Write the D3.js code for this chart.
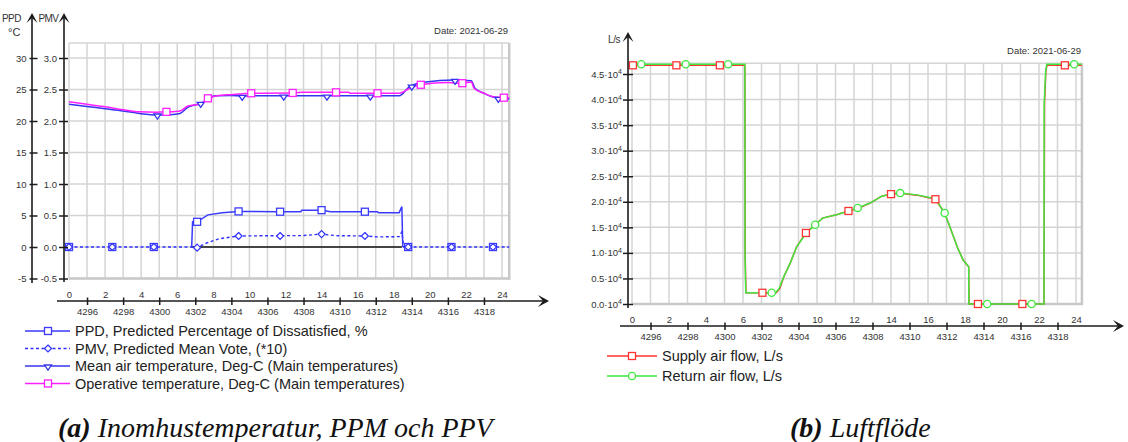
<!DOCTYPE html>
<html><head><meta charset="utf-8">
<script src="https://cdn.jsdelivr.net/npm/d3@7/dist/d3.min.js"></script>
<style>
body{margin:0;background:#fff}
svg{display:block}
text{font-family:"Liberation Sans",Arial,sans-serif}
text.cap{font-family:"Liberation Serif","Times New Roman",serif}
</style></head><body>
<svg id="c" width="1128" height="442"></svg>
<script>
// ---------- shared tick labels ----------
const hourLabels = [0,2,4,6,8,10,12,14,16,18,20,22,24];
const simHourTickHours = [1,3,5,7,9,11,13,15,17,19,21,23];
const simHourLabels = [4296,4298,4300,4302,4304,4306,4308,4310,4312,4314,4316,4318];
const dateLabel = "Date: 2021-06-29";

// ---------- chart (a) ----------
const ppdTicks = [-5,0,5,10,15,20,25,30];
const pmvTicks = [-0.5,0.0,0.5,1.0,1.5,2.0,2.5,3.0];
const legendA = [
  "PPD, Predicted Percentage of Dissatisfied, %",
  "PMV, Predicted Mean Vote, (*10)",
  "Mean air temperature, Deg-C (Main temperatures)",
  "Operative temperature, Deg-C (Main temperatures)"
];
// [hour, value]
const ppdLine = [[6.8,0],[6.85,4.0],[7.1,4.0],[7.7,5.1],[8.5,5.45],[9.4,5.65],[11.5,5.6],[12.85,5.6],[12.9,5.85],[14.0,5.85],[14.5,5.6],[16.4,5.6],[17.1,5.6],[17.15,5.45],[18.3,5.45],[18.45,6.4],[18.5,0]];
const ppdMarkers = [[0,0],[2.4,0],[4.7,0],[7.1,4.0],[9.4,5.65],[11.7,5.6],[14.0,5.85],[16.4,5.6],[18.8,0],[21.2,0],[23.5,0]];
const pmvLine = [[0,0],[6.8,0],[7.1,-0.01],[7.6,0.06],[8.3,0.13],[9.4,0.175],[11.7,0.18],[12.9,0.18],[14.0,0.205],[14.8,0.18],[16.4,0.175],[17.1,0.16],[18.3,0.165],[18.45,0.24],[18.55,0],[24.4,0]];
const pmvMarkers = [[0,0],[2.4,0],[4.7,0],[7.1,-0.01],[9.4,0.175],[11.7,0.175],[14.0,0.205],[16.4,0.175],[18.8,0],[21.2,0],[23.5,0]];
const meanAirLine = [[0,22.65],[1,22.3],[2,21.95],[3,21.6],[3.9,21.2],[4.9,20.95],[5.6,21.0],[6.15,21.2],[6.6,22.2],[7.3,22.8],[7.7,23.5],[8.1,24.0],[9.0,24.05],[9.6,23.95],[10.2,24.0],[18.3,24.0],[18.9,25.5],[19.8,26.2],[21.3,26.5],[22.3,26.4],[22.5,25.2],[23.0,24.4],[23.5,23.8],[24.4,23.5]];
const meanAirMarkers = [[4.9,20.95],[7.3,22.8],[9.6,23.9],[11.9,23.95],[14.3,23.95],[16.7,23.95],[19.0,25.55],[21.4,26.45],[23.8,23.6]];
const operativeLine = [[0,23.05],[1,22.65],[2,22.25],[3,21.8],[3.9,21.45],[4.85,21.4],[5.4,21.45],[6.15,21.6],[6.6,22.4],[7.3,22.7],[7.7,23.6],[8.2,24.0],[9.1,24.2],[10.1,24.4],[12.3,24.45],[12.9,24.55],[15.5,24.55],[15.6,24.4],[18.3,24.4],[18.9,25.2],[19.5,25.75],[21.0,26.1],[21.8,26.0],[22.3,26.2],[22.45,25.2],[23.0,24.4],[23.6,23.8],[24.4,23.7]];
const operativeMarkers = [[5.4,21.45],[7.7,23.6],[10.1,24.4],[12.4,24.45],[14.8,24.55],[17.1,24.4],[19.5,25.75],[21.8,26.0],[24.1,23.7]];
const occupiedZeroSpan = [[6.8,0],[18.45,0]];

// ---------- chart (b) ----------
const flowTicks = [0,5000,10000,15000,20000,25000,30000,35000,40000,45000];
const legendB = ["Supply air flow, L/s","Return air flow, L/s"];
const supplyLine = [[0,46700],[6.1,46700],[6.12,9200],[6.16,2200],[7.8,2200],[8.0,3100],[8.2,5300],[8.55,8000],[8.9,11200],[9.4,13900],[9.9,15500],[10.3,16800],[11.1,17500],[11.7,18200],[12.2,18700],[12.9,19800],[13.5,21100],[14.0,21500],[14.5,21650],[15.4,21300],[16.4,20500],[16.9,17800],[17.2,14900],[17.6,11000],[17.9,8600],[18.2,7300],[18.22,0],[22.27,0],[22.3,39300],[22.37,45500],[22.43,46700],[24.3,46700]];
const returnLine = [[0,46900],[6.1,46900],[6.11,9200],[6.15,2200],[7.75,2200],[7.95,3000],[8.2,5300],[8.55,8000],[8.9,11200],[9.4,13800],[9.9,15500],[10.3,16800],[11.1,17500],[11.7,18150],[12.2,18800],[12.9,19800],[13.5,21100],[14.0,21500],[14.5,21700],[15.4,21350],[16.4,20600],[16.9,17800],[17.2,14900],[17.6,11000],[17.9,8600],[18.2,7300],[18.21,0],[22.27,0],[22.28,39300],[22.36,45500],[22.42,46900],[24.3,46900]];
const supplyMarkers = [[0.05,46700],[2.4,46700],[4.75,46700],[7.05,2200],[9.4,13900],[11.7,18200],[14.0,21500],[16.4,20500],[18.7,0],[21.1,0],[23.4,46700]];
const returnMarkers = [[0.5,46900],[2.9,46900],[5.2,46900],[7.55,2200],[9.9,15500],[12.2,18800],[14.5,21700],[16.9,17800],[19.2,0],[21.6,0],[23.9,46900]];

// ---------- styles ----------
const COL = {ppd:'#3a3aff', pmv:'#2f2fff', air:'#3434f0', op:'#ff1fff', sup:'#ff3535', ret:'#3fe83f',
  grid:'#d4d4d4', axis:'#1c1c1c', text:'#333'};

const svg = d3.select('#c');

function marker(g, type, cx, cy, color){
  if(type==='square'){
    g.append('rect').attr('x',cx-3.5).attr('y',cy-3.5).attr('width',7).attr('height',7)
      .attr('fill','#fff').attr('stroke',color).attr('stroke-width',1.3);
  } else if(type==='diamond'){
    g.append('path').attr('d',`M${cx},${cy-3.5}L${cx+3.5},${cy}L${cx},${cy+3.5}L${cx-3.5},${cy}Z`)
      .attr('fill','#fff').attr('stroke',color).attr('stroke-width',1.2);
  } else if(type==='tri'){
    g.append('path').attr('d',`M${cx-3.5},${cy-1}L${cx+3.5},${cy-1}L${cx},${cy+4}Z`)
      .attr('fill','#fff').attr('stroke',color).attr('stroke-width',1.3);
  } else if(type==='circle'){
    g.append('circle').attr('cx',cx).attr('cy',cy).attr('r',3.6)
      .attr('fill','#fff').attr('stroke',color).attr('stroke-width',1.3);
  }
}

function upArrow(g,x,top){
  g.append('path').attr('d',`M${x},${top}L${x+5.5},${top+10}L${x},${top+5}L${x-5.5},${top+10}Z`).attr('fill',COL.axis);
}
function rightArrow(g,x,y){
  g.append('path').attr('d',`M${x},${y}L${x-11},${y-6}L${x-6},${y}L${x-11},${y+6}Z`).attr('fill',COL.axis);
}

function grid(g, x, y, xMax, yMin, yTop, hTicks){
  const gg = g.append('g');
  gg.selectAll('line.v').data(d3.range(0,25)).join('line')
    .attr('x1',d=>x(d)).attr('x2',d=>x(d)).attr('y1',y(yTop)).attr('y2',y(yMin))
    .attr('stroke',COL.grid).attr('stroke-width',1.5);
  gg.selectAll('line.h').data(hTicks.concat([yTop])).join('line')
    .attr('x1',x(0)).attr('x2',x(xMax)).attr('y1',d=>y(d)).attr('y2',d=>y(d))
    .attr('stroke',COL.grid).attr('stroke-width',1.5);
  gg.append('line').attr('x1',x(xMax)).attr('x2',x(xMax)).attr('y1',y(yTop)).attr('y2',y(yMin)+1)
    .attr('stroke','#c8c8c8').attr('stroke-width',2.5);
  gg.append('line').attr('x1',x(0)).attr('x2',x(xMax)+1).attr('y1',y(yMin)).attr('y2',y(yMin))
    .attr('stroke','#c8c8c8').attr('stroke-width',2.5);
}

function xAxis(g, x, yLine, x0, x1){
  const ax = g.append('g').attr('transform',`translate(0,${yLine})`)
    .call(d3.axisBottom(x).tickValues(simHourTickHours).tickFormat((d,i)=>simHourLabels[i]).tickSize(4));
  ax.select('.domain').remove();
  ax.selectAll('.tick line').attr('y1',-3.5).attr('y2',4).attr('stroke',COL.axis).attr('stroke-width',1.5);
  ax.selectAll('.tick text').attr('y',7.5).attr('font-size','9.5px').attr('fill',COL.text);
  const at = g.append('g').attr('transform',`translate(0,${yLine})`)
    .call(d3.axisTop(x).tickValues(hourLabels).tickSize(0).tickPadding(3.5));
  at.select('.domain').remove();
  at.selectAll('.tick text').attr('font-size','9.5px').attr('fill',COL.text);
  g.append('line').attr('x1',x0).attr('x2',x1-3).attr('y1',yLine).attr('y2',yLine).attr('stroke',COL.axis).attr('stroke-width',1.6);
  rightArrow(g,x1,yLine);
}

function yAxis(g, scale, ticks, xPos, fmt, top, bottom, t1, t2, pad){
  const ax = g.append('g').attr('transform',`translate(${xPos},0)`)
    .call(d3.axisLeft(scale).tickValues(ticks).tickFormat(fmt).tickSize(4));
  ax.select('.domain').remove();
  ax.selectAll('.tick line').attr('x1',t1).attr('x2',-t2).attr('stroke',COL.axis).attr('stroke-width',1.5);
  ax.selectAll('.tick text').attr('x',-pad).attr('font-size','9.5px').attr('fill',COL.text);
  g.append('line').attr('x1',xPos).attr('x2',xPos).attr('y1',top+4).attr('y2',bottom).attr('stroke',COL.axis).attr('stroke-width',1.6);
  upArrow(g,xPos,top);
  return ax;
}

function caption(g, x0, bold, rest){
  const cap = g.append('text').attr('class','cap').attr('x',x0).attr('y',437)
    .attr('font-size','28px').attr('font-style','italic').attr('fill','#111');
  cap.append('tspan').attr('font-weight','bold').text(bold);
  cap.append('tspan').text(rest);
}

// ================= Chart A =================
(function(){
  const g = svg.append('g');
  const x = d3.scaleLinear().domain([0,24]).range([69,502]);
  const y = d3.scaleLinear().domain([-5,30]).range([278.5,58]);
  const yP = d3.scaleLinear().domain([-0.5,3.0]).range([278.5,58]);
  const xMax = 24.4, yTop = 32.4;
  grid(g,x,y,xMax,-5,yTop,ppdTicks);

  const line = sc => d3.line().x(d=>x(d[0])).y(d=>sc(d[1]));
  g.append('path').datum(occupiedZeroSpan).attr('d',line(y)).attr('stroke','#111').attr('stroke-width',1.4).attr('fill','none');
  g.append('path').datum(meanAirLine).attr('d',line(y).curve(d3.curveMonotoneX)).attr('stroke',COL.air).attr('stroke-width',1.5).attr('fill','none');
  g.append('path').datum(operativeLine).attr('d',line(y).curve(d3.curveMonotoneX)).attr('stroke',COL.op).attr('stroke-width',1.5).attr('fill','none');
  meanAirMarkers.forEach(d=>marker(g,'tri',x(d[0]),y(d[1]),COL.air));
  operativeMarkers.forEach(d=>marker(g,'square',x(d[0]),y(d[1]),COL.op));
  g.append('path').datum(ppdLine).attr('d',line(y)).attr('stroke',COL.ppd).attr('stroke-width',1.5).attr('fill','none');
  g.append('path').datum(pmvLine).attr('d',line(yP)).attr('stroke',COL.pmv).attr('stroke-width',1.4).attr('stroke-dasharray','3,2.5').attr('fill','none');
  ppdMarkers.forEach(d=>marker(g,'square',x(d[0]),y(d[1]),COL.ppd));
  pmvMarkers.forEach(d=>marker(g,'diamond',x(d[0]),yP(d[1]),COL.pmv));

  yAxis(g,y,ppdTicks,32,d=>d,13,283,5.5,2.5,5.5);
  yAxis(g,yP,pmvTicks,64,d=>d.toFixed(1),13,282,4,5,7);
  const lab = g.append('g').attr('font-size','10px').attr('fill',COL.text);
  lab.append('text').attr('x',2).attr('y',22).attr('letter-spacing','-0.6px').text('PPD');
  lab.append('text').attr('x',38.5).attr('y',22).attr('letter-spacing','-0.6px').text('PMV');
  lab.append('text').attr('x',8).attr('y',36).attr('font-size','11px').text('°C');
  g.append('text').attr('x',508).attr('y',33.5).attr('text-anchor','end').attr('font-size','9.5px').attr('fill',COL.text).text(dateLabel);

  xAxis(g,x,301,57,549);

  const types = ['square','diamond','tri','square'];
  const cols = [COL.ppd,COL.pmv,COL.air,COL.op];
  const ys = [331,348.5,366,383.5];
  legendA.forEach((t,i)=>{
    const lg = g.append('g');
    lg.append('line').attr('x1',25).attr('x2',70).attr('y1',ys[i]).attr('y2',ys[i]).attr('stroke',cols[i]).attr('stroke-width',1.4)
      .attr('stroke-dasharray',i===1?'3,2.5':null);
    marker(lg,types[i],48,ys[i],cols[i]);
    lg.append('text').attr('x',75).attr('y',ys[i]).attr('dy','0.36em').attr('font-size','14.5px').attr('fill','#222').text(t);
  });
  caption(g,58,'(a)',' Inomhustemperatur, PPM och PPV');
})();

// ================= Chart B =================
(function(){
  const g = svg.append('g');
  const x = d3.scaleLinear().domain([0,24]).range([632,1076]);
  const y = d3.scaleLinear().domain([0,45000]).range([304,74]);
  const xMax = 24.32, yTop = 47100;
  grid(g,x,y,xMax,0,yTop,flowTicks);
  const line = d3.line().x(d=>x(d[0])).y(d=>y(d[1]));
  g.append('path').datum(supplyLine).attr('d',line).attr('stroke',COL.sup).attr('stroke-width',1.5).attr('fill','none');
  g.append('path').datum(returnLine).attr('d',line).attr('stroke',COL.ret).attr('stroke-width',1.5).attr('fill','none');
  supplyMarkers.forEach(d=>marker(g,'square',x(d[0]),y(d[1]),COL.sup));
  returnMarkers.forEach(d=>marker(g,'circle',x(d[0]),y(d[1]),COL.ret));

  const ax = yAxis(g,y,flowTicks,628,d=>d,32,308,5,5,6);
  ax.selectAll('.tick text').each(function(d){
    const t = d3.select(this); t.text(null);
    t.append('tspan').text((d/10000).toFixed(1)+'·10');
    t.append('tspan').attr('dy','-0.45em').attr('font-size','7px').text('4');
  });
  g.append('text').attr('x',608).attr('y',42.5).attr('font-size','10px').attr('letter-spacing','-0.4px').attr('fill',COL.text).text('L/s');
  g.append('text').attr('x',1081).attr('y',53.5).attr('text-anchor','end').attr('font-size','9.5px').attr('fill',COL.text).text(dateLabel);

  xAxis(g,x,326,620,1124);

  const types = ['square','circle'];
  const cols = [COL.sup,COL.ret];
  const ys = [356,376];
  legendB.forEach((t,i)=>{
    const lg = g.append('g');
    lg.append('line').attr('x1',607).attr('x2',657).attr('y1',ys[i]).attr('y2',ys[i]).attr('stroke',cols[i]).attr('stroke-width',1.4);
    marker(lg,types[i],632,ys[i],cols[i]);
    lg.append('text').attr('x',662).attr('y',ys[i]).attr('dy','0.36em').attr('font-size','14.5px').attr('fill','#222').text(t);
  });
  caption(g,790,'(b)',' Luftflöde');
})();
</script></body></html>
